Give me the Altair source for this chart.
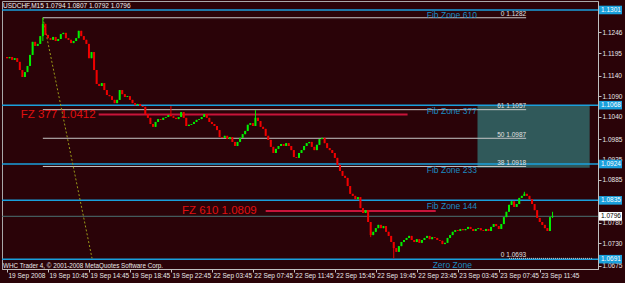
import altair as alt
import pandas as pd

# ---------------- data ----------------
symbol_title = "USDCHF,M15  1.0794 1.0807 1.0792 1.0796"
copyright_text = "WHC Trader 4, \u00a9 2001-2008 MetaQuotes Software Corp."

first_open = 1.1186
closes = [
    1.1183, 1.1186, 1.1179, 1.1183, 1.1174, 1.1154, 1.1137, 1.1149, 1.1164, 1.1191,
    1.1223, 1.1213, 1.1218, 1.1237, 1.1267, 1.1240, 1.1232, 1.1228, 1.1235, 1.1225,
    1.1230, 1.1242, 1.1245, 1.1232, 1.1228, 1.1220, 1.1225, 1.1232, 1.1250, 1.1237,
    1.1228, 1.1218, 1.1183, 1.1198, 1.1154, 1.1120, 1.1115, 1.1122, 1.1105, 1.1093,
    1.1090, 1.1081, 1.1073, 1.1081, 1.1105, 1.1095, 1.1088, 1.1090, 1.1081, 1.1073,
    1.1068, 1.1071, 1.1066, 1.1064, 1.1046, 1.1037, 1.1022, 1.1015, 1.1027, 1.1034,
    1.1032, 1.1037, 1.1039, 1.1044, 1.1041, 1.1037, 1.1034, 1.1039, 1.1051, 1.1037,
    1.1017, 1.1020, 1.1022, 1.1027, 1.1032, 1.1034, 1.1039, 1.1046, 1.1037, 1.1027,
    1.1022, 1.1017, 1.1007, 1.0990, 1.0988, 1.0993, 1.0985, 1.0990, 1.0978, 1.0968,
    1.0978, 1.0988, 1.0997, 1.1005, 1.1020, 1.1024, 1.1017, 1.1037, 1.1029, 1.1015,
    1.1010, 1.0993, 1.0983, 1.0966, 1.0951, 1.0961, 1.0968, 1.0973, 1.0968, 1.0975,
    1.0968, 1.0958, 1.0941, 1.0939, 1.0951, 1.0958, 1.0968, 1.0975, 1.0978, 1.0966,
    1.0958, 1.0971, 1.0985, 1.0988, 1.0975, 1.0963, 1.0958, 1.0951, 1.0939, 1.0922,
    1.0907, 1.0895, 1.0890, 1.0870, 1.0851, 1.0846, 1.0838, 1.0843, 1.0816, 1.0804,
    1.0811, 1.0782, 1.0750, 1.0758, 1.0767, 1.0775, 1.0767, 1.0772, 1.0758, 1.0748,
    1.0733, 1.0718, 1.0709, 1.0723, 1.0733, 1.0738, 1.0743, 1.0748, 1.0738, 1.0733,
    1.0740, 1.0731, 1.0738, 1.0743, 1.0748, 1.0740, 1.0745, 1.0743, 1.0738, 1.0736,
    1.0728, 1.0731, 1.0743, 1.0750, 1.0758, 1.0762, 1.0760, 1.0765, 1.0762, 1.0765,
    1.0770, 1.0765, 1.0760, 1.0765, 1.0767, 1.0762, 1.0760, 1.0765, 1.0760, 1.0770,
    1.0777, 1.0772, 1.0765, 1.0777, 1.0794, 1.0807, 1.0824, 1.0833, 1.0819, 1.0826,
    1.0841, 1.0846, 1.0851, 1.0846, 1.0838, 1.0826, 1.0811, 1.0792, 1.0782, 1.0775,
    1.0767, 1.0760, 1.0794, 1.0796,
]
high_wicks = {6: 1.1142, 14: 1.1282, 64: 1.1066, 97: 1.1056, 202: 1.0856, 213: 1.0807}
low_wicks = {14: 1.1225, 142: 1.0745, 151: 1.0693, 213: 1.0792}

time_labels = ["19 Sep 2008", "19 Sep 10:45", "19 Sep 14:45", "19 Sep 18:45",
               "19 Sep 22:45", "22 Sep 03:45", "22 Sep 07:45", "22 Sep 11:45",
               "22 Sep 15:45", "22 Sep 19:45", "22 Sep 23:45", "23 Sep 03:45",
               "23 Sep 07:45", "23 Sep 11:45"]
bars_per_label = 16
price_ticks = [1.1246, 1.1195, 1.1140, 1.1090, 1.1040, 1.0985, 1.0935,
               1.0885, 1.0780, 1.0730, 1.0675]

zone_prices = [1.1301, 1.1068, 1.0924, 1.0835, 1.0691]
zone_names = ["Fib Zone 610", "Fib Zone 377", "Fib Zone 233", "Fib Zone 144", "Zero Zone"]
fibo_levels = ["0", "61", "50", "38"]
fibo_prices = [1.1282, 1.1057, 1.0987, 1.0918]
fibo_low_level = "0"
fibo_low_price = 1.0693
fz_texts = ["FZ 377 1.0412", "FZ 610 1.0809"]
fz_line_prices = [1.1045, 1.0809]
current_price = 1.0796
box_top, box_bottom = 1.1068, 1.0915

# ---------------- layout constants ----------------
X_DOMAIN = [0, 228.8]
Y_DOMAIN = [1.0667, 1.1323]
FONT = "Liberation Sans"
BG = "#2a0308"
CYAN = "#1aa0dc"
GRAY = "#c8c8c8"

# ---------------- tables ----------------
opens = [first_open] + closes[:-1]
rows = []
for i, (o, c) in enumerate(zip(opens, closes)):
    h = high_wicks.get(i, max(o, c))
    l = low_wicks.get(i, min(o, c))
    rows.append({"i": i, "o": o, "c": c, "h": h, "l": l,
                 "col": "#00f000" if c >= o else "#f00000"})
candles = pd.DataFrame(rows)

label_expr = "[" + ",".join("'%s'" % t for t in time_labels) + "][round(datum.value/%d)]" % bars_per_label
x_axis = alt.Axis(values=[k * bars_per_label for k in range(len(time_labels))],
                  labelExpr=label_expr, labelAlign="left", labelOffset=1,
                  labelFontSize=6.5, labelFont=FONT, labelColor="#e8e8e8",
                  tickSize=3, tickColor="#c0c0c0", domainColor="#c0c0c0",
                  labelPadding=0, title=None, grid=False, labelOverlap=False,
                  labelFlush=False)
y_axis = alt.Axis(orient="right", values=price_ticks,
                  labelExpr="format(datum.value, '.4f')",
                  labelFontSize=6.5, labelFont=FONT, labelColor="#e8e8e8",
                  tickSize=3, tickColor="#c0c0c0", domainColor="#c0c0c0",
                  labelPadding=1, title=None, grid=False, labelOverlap=False,
                  labelFlush=False)
xs = alt.Scale(domain=X_DOMAIN, nice=False, zero=False)
ys = alt.Scale(domain=Y_DOMAIN, nice=False, zero=False)


def X(f):
    return alt.X(f, type="quantitative", scale=xs, axis=x_axis)


def Y(f):
    return alt.Y(f, type="quantitative", scale=ys, axis=y_axis)


# zone rectangle
zone_box = alt.Chart(pd.DataFrame([{"a": 183.7, "b": 227.5, "p1": box_bottom, "p2": box_top}])).mark_rect(
    color="#30595a").encode(x=X("a"), x2="b", y=Y("p1"), y2="p2")

# cyan zone lines
zones = pd.DataFrame({"p": zone_prices, "name": zone_names,
                      "tx": [163.9, 163.9, 163.9, 163.9, 166.2]})
zone_lines = alt.Chart(zones).mark_rule(color=CYAN, strokeWidth=1.5).encode(y=Y("p"))
zone_text = alt.Chart(zones).mark_text(align="left", baseline="top", dy=1.5, fontSize=8.5,
                                       font=FONT, color="#1a8cc4").encode(
    x=X("tx"), y=Y("p"), text="name")

# current price line
cur_line = alt.Chart(pd.DataFrame({"p": [current_price]})).mark_rule(
    color="#4a7272", strokeWidth=1).encode(y=Y("p"))

# fibo gray lines
fib = pd.DataFrame({"p": fibo_prices, "lvl": fibo_levels, "a": 14.0, "b": 202.7})
fib["t"] = fib["lvl"] + "  " + fib["p"].map(lambda v: "%.4f" % v)
fib_lines = alt.Chart(fib).mark_rule(color=GRAY, strokeWidth=1).encode(x=X("a"), x2="b", y=Y("p"))
fib_low = pd.DataFrame({"p": [fibo_low_price], "a": [196.0], "b": [228.8], "lab": [202.7],
                        "t": [fibo_low_level + "  " + "%.4f" % fibo_low_price]})
fib_low_line = alt.Chart(fib_low).mark_rule(color=GRAY, strokeWidth=1, strokeDash=[1, 1]).encode(
    x=X("a"), x2="b", y=Y("p"))
fib_text = alt.Chart(pd.concat([fib.assign(lab=202.7), fib_low])).mark_text(
    align="right", baseline="bottom", dy=-0.5, fontSize=6.5, font=FONT, color="#e0e0e0").encode(
    x=X("lab"), y=Y("p"), text="t")

# diagonal dotted trend line of the fibo object
diag = alt.Chart(pd.DataFrame([{"a": 14.0, "b": 33.2, "p1": fibo_prices[0], "p2": fibo_low_price}])).mark_rule(
    color="#9a9a18", strokeWidth=1, strokeDash=[2, 2]).encode(x=X("a"), x2="b", y=Y("p1"), y2="p2")

# red FZ lines and texts
fz = pd.DataFrame({"t": fz_texts, "p": fz_line_prices,
                   "tx": [5.4, 68.3], "a": [35.8, 101.0], "b": [156.4, 167.4]})
fz_lines = alt.Chart(fz).mark_rule(color="#c8143a", strokeWidth=2).encode(x=X("a"), x2="b", y=Y("p"))
fz_text = alt.Chart(fz).mark_text(align="left", baseline="middle", fontSize=11.5, font=FONT,
                                  color="#e01010").encode(x=X("tx"), y=Y("p"), text="t")

# candles
wicks = alt.Chart(candles).mark_rule(strokeWidth=1).encode(
    x=X("i"), y=Y("l"), y2="h", color=alt.Color("col:N", scale=None))
bodies = alt.Chart(candles).mark_bar(size=2).encode(
    x=X("i"), y=Y("o"), y2="c", color=alt.Color("col:N", scale=None))

# header and copyright
header = alt.Chart(pd.DataFrame({"t": [symbol_title]})).mark_text(
    align="left", baseline="middle", fontSize=6.5, font=FONT, color="#f0f0f0").encode(
    x=alt.value(1), y=alt.value(5), text="t")
copy_txt = alt.Chart(pd.DataFrame({"t": [copyright_text]})).mark_text(
    align="left", baseline="middle", fontSize=6.3, font=FONT, color="#e8e8e8").encode(
    x=alt.value(1), y=alt.value(265), text="t")

# highlighted price labels on the axis
hl = pd.DataFrame({"p": zone_prices + [current_price],
                   "bg": [CYAN] * 5 + ["#ffffff"],
                   "fg": ["#ffffff"] * 5 + ["#000000"]})
hl["t"] = hl["p"].map(lambda v: "%.4f" % v)
hl_base = alt.Chart(hl).transform_calculate(lo="datum.p - 0.00105", hi="datum.p + 0.00105")
hl_box = hl_base.mark_rect().encode(x=alt.value(597), x2=alt.value(620), y=Y("lo:Q"), y2="hi:Q",
                                     color=alt.Color("bg:N", scale=None))
hl_txt = alt.Chart(hl).mark_text(align="left", baseline="middle", fontSize=6.5, font=FONT).encode(
    x=alt.value(599), y=Y("p"), text="t", color=alt.Color("fg:N", scale=None))

chart = alt.layer(
    zone_box, cur_line, zone_lines, fib_lines, fib_low_line, diag, fz_lines,
    wicks, bodies, zone_text, fib_text, fz_text, header, copy_txt, hl_box, hl_txt
).properties(
    width=596, height=268,
    autosize=alt.AutoSizeParams(type="none"),
    padding={"left": 2, "top": 1, "right": 27, "bottom": 14},
    background=BG,
).configure_view(stroke="#a8a8a8", strokeWidth=1)

chart.save("out.html", embed_options={"renderer": "svg", "actions": False})
